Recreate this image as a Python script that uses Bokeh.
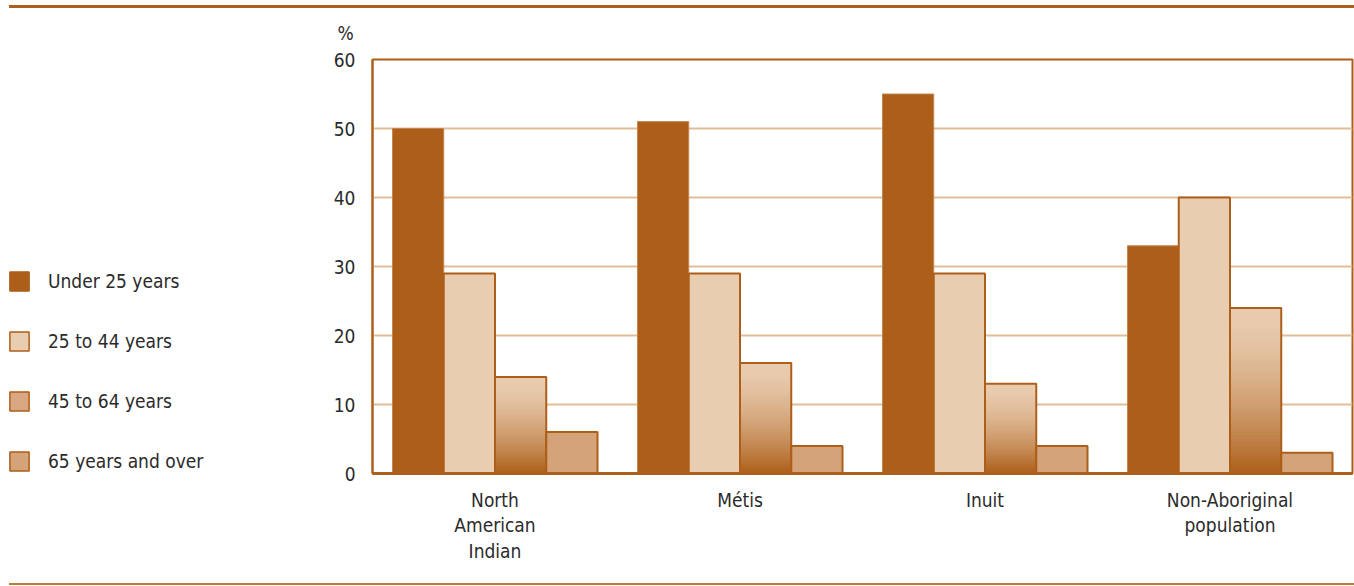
import numpy as np
from bokeh.plotting import figure
from bokeh.layouts import row, column
from bokeh.models import (Range1d, FixedTicker, Legend, LegendItem, Title,
                          ColumnDataSource, Div)
from bokeh.embed import file_html
from bokeh.resources import INLINE

# ---------------- data ----------------
groups = ["North\nAmerican\nIndian", "Métis", "Inuit", "Non-Aboriginal\npopulation"]
series_names = ["Under 25 years", "25 to 44 years", "45 to 64 years", "65 years and over"]
under_25 = [50, 51, 55, 33]
age_25_44 = [29, 29, 29, 40]
age_45_64 = [14, 16, 13, 24]
age_65_over = [6, 4, 4, 3]
y_ticks = [0, 10, 20, 30, 40, 50, 60]

# ---------------- style ----------------
BROWN = "#ad5f19"
LIGHT = "#e9cdb1"
MID = "#d4a379"
GRAD_TOP = "#e9ccb0"
GRAD_BOT = "#ad5f19"
GRID = "#e2bd98"
TEXT = "#2b2b2b"
FONT = "'DejaVu Sans Condensed', 'Liberation Sans', sans-serif"
FS = "19px"

LEG_W = 250
TOTAL_W = 1354
FIG_H = 575

# ---------------- main chart ----------------
p = figure(width=TOTAL_W - LEG_W, height=FIG_H, output_backend="svg", toolbar_location=None,
           x_range=Range1d(0, 4), y_range=Range1d(0, 60),
           min_border_left=122, min_border_right=2, min_border_top=51,
           min_border_bottom=110, background_fill_color="white",
           border_fill_color="white")
p.title = None

bar_w = 0.2092
series = [under_25, age_25_44, age_45_64, age_65_over]
centers = np.arange(len(groups)) + 0.5
offsets = [-1.5, -0.5, 0.5, 1.5]


def hex2rgb(h):
    h = h.lstrip("#")
    return np.array([int(h[i:i + 2], 16) for i in (0, 2, 4)], dtype=float)


def rgb2hex(c):
    return "#%02x%02x%02x" % tuple(int(round(v)) for v in c)


# gradient fill for the 45-64 bars: overlapping layers, each from a fraction
# of the bar's value up to the value itself
N = 48
c_top, c_bot = hex2rgb(GRAD_TOP), hex2rgb(GRAD_BOT)
gl, gr, gb, gt, gc = [], [], [], [], []
for cx, v in zip(centers, age_45_64):
    x0 = cx + offsets[2] * bar_w - bar_w / 2
    for i in range(N):
        t = 1 - (i + 0.5) / N  # 0 at top, 1 at bottom
        col = c_top + (c_bot - c_top) * (t ** 1.6)
        gl.append(x0); gr.append(x0 + bar_w)
        gb.append(v * i / N); gt.append(v)
        gc.append(rgb2hex(col))
p.quad(left=gl, right=gr, bottom=gb, top=gt, fill_color=gc, line_color=None)

fills = [BROWN, LIGHT, None, MID]
line_cols = ["#c48650", BROWN, BROWN, BROWN]
for k, (vals, fc) in enumerate(zip(series, fills)):
    xs = centers + offsets[k] * bar_w
    src = ColumnDataSource(dict(x=xs, top=vals))
    p.vbar(x="x", top="top", bottom=0, width=bar_w, source=src,
           fill_color=fc, line_color=line_cols[k], line_width=2 if k else 1)

# axes
p.xaxis.ticker = FixedTicker(ticks=list(centers))
p.xaxis.major_label_overrides = {float(c): g for c, g in zip(centers, groups)}
p.yaxis.ticker = FixedTicker(ticks=y_ticks)
for ax in (p.xaxis, p.yaxis):
    ax.major_tick_line_color = None
    ax.minor_tick_line_color = None
    ax.major_label_text_font = FONT
    ax.major_label_text_font_size = FS
    ax.major_label_text_color = TEXT
p.yaxis.axis_line_color = BROWN
p.yaxis.axis_line_width = 2
p.yaxis.major_label_standoff = 11
p.xaxis.axis_line_color = BROWN
p.xaxis.axis_line_width = 3
p.xaxis.major_label_standoff = 9
p.xaxis.major_label_text_line_height = 1.16

p.xgrid.grid_line_color = None
p.ygrid.grid_line_color = GRID
p.ygrid.grid_line_width = 2

p.outline_line_color = BROWN
p.outline_line_width = 2
p.outline_line_alpha = 1

p.add_layout(Title(text="%", align="left", offset=-35, standoff=27,
                   vertical_align="top",
                   text_font=FONT, text_font_size=FS, text_color=TEXT,
                   text_font_style="normal"), "above")

# ---------------- legend panel ----------------
lf = figure(width=LEG_W, height=FIG_H, output_backend="svg", toolbar_location=None,
            x_axis_location=None, y_axis_location=None,
            x_range=Range1d(0, 1), y_range=Range1d(0, 1),
            min_border=0, outline_line_color=None,
            background_fill_color="white", border_fill_color="white")
lf.title = None
lf.xgrid.visible = False
lf.ygrid.visible = False
legend_fills = [BROWN, LIGHT, "#d9a882", MID]
legend_lines = [BROWN, BROWN, BROWN, BROWN]
items = []
for name, fc, lc in zip(series_names, legend_fills, legend_lines):
    # swatch-only renderer, kept outside the visible range of this panel
    r = lf.quad(left=[2], right=[3], bottom=[2], top=[3], fill_color=fc,
                line_color=lc, line_width=1.5)
    items.append(LegendItem(label=name, renderers=[r]))
legend = Legend(items=items, location=(7, 0), orientation="vertical",
                glyph_width=24, glyph_height=24, label_standoff=17,
                spacing=36, padding=0, margin=0, border_line_color=None,
                background_fill_alpha=0, label_text_font=FONT,
                label_text_font_size=FS, label_text_color=TEXT,
                label_height=22)
lf.add_layout(legend, "center")

# ---------------- decorative rules ----------------
top_rule = Div(text="", width=TOTAL_W - 9, height=3, margin=(5, 0, 0, 9),
               styles={"background-color": BROWN})
bottom_rule = Div(text="", width=TOTAL_W - 9, height=2, margin=(0, 0, 0, 9),
                  styles={"background-color": "#bb7a40"})

layout = column(top_rule, row(lf, p, spacing=0), bottom_rule, spacing=0)

open("out.html", "w").write(file_html(layout, INLINE))
